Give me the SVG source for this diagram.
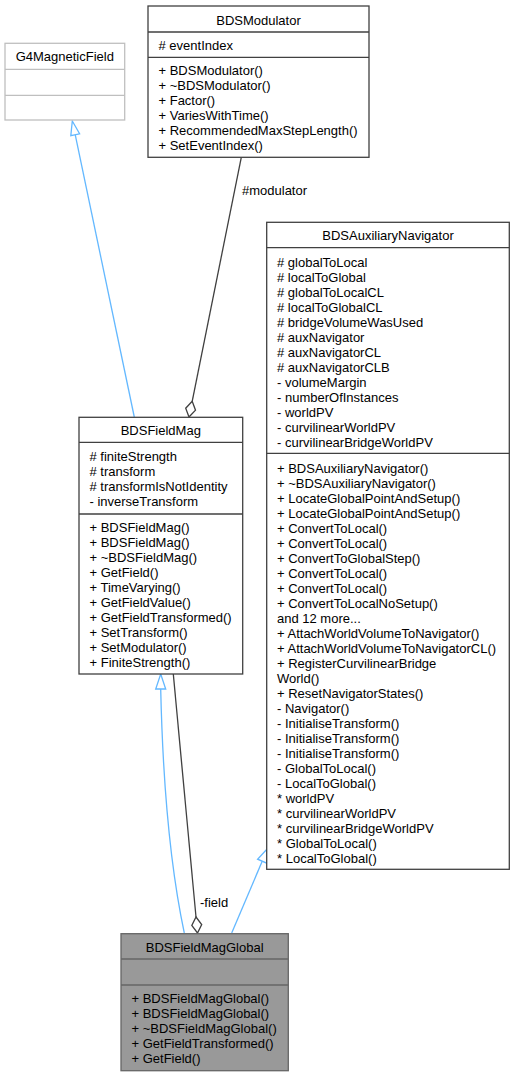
<svg xmlns="http://www.w3.org/2000/svg" width="514" height="1077" viewBox="0 0 514 1077">
<style>
text{font-family:"Liberation Sans",Arial,sans-serif;font-size:13px;fill:#000}
.t{text-anchor:middle}
.box{fill:#fff;stroke:#404040;stroke-width:1.3}
.sep{stroke:#404040;stroke-width:1.3}
.g4{fill:#fff;stroke:#bfbfbf;stroke-width:1.3}
.g4s{stroke:#bfbfbf;stroke-width:1.3}
.cur{fill:#999;stroke:#666;stroke-width:1.3}
.curs{stroke:#666;stroke-width:1.3}
.inh{fill:none;stroke:#63b8ff;stroke-width:1.3}
.inhh{fill:#fff;stroke:#63b8ff;stroke-width:1.3}
.agg{fill:none;stroke:#404040;stroke-width:1.3}
.aggh{fill:#fff;stroke:#404040;stroke-width:1.3}
</style>
<rect width="514" height="1077" fill="#fff"/>
<g id="connectors">
<path class="inh" d="M134.3,417 L75.2,134.7"/>
<polygon class="inhh" points="72.3,121 79.6,133.8 70.8,135.6"/>
<path class="agg" d="M241.3,157.3 L192.2,401.3"/>
<polygon class="aggh" points="192.2,401.3 195.5,410.2 189,417 185.7,408.2"/>
<text x="242" y="195">#modulator</text>
<path class="inh" d="M184.3,933 C172,875 163,790 160.7,689"/>
<polygon class="inhh" points="160.7,674 165.7,689 155.7,689"/>
<path class="agg" d="M173.3,674 L196,917"/>
<polygon class="aggh" points="196,917 201.7,924.5 197.5,933 191.8,925.5"/>
<text x="200" y="906.5">-field</text>
<path class="inh" d="M231.7,933 L262.2,861.2"/>
<polygon class="inhh" points="267.7,848.3 266.8,863.2 257.6,859.2"/>
</g>
<g id="G4MagneticField">
<rect class="g4" x="5" y="43.3" width="119.7" height="76.7"/>
<line class="g4s" x1="5" y1="69.3" x2="124.7" y2="69.3"/>
<line class="g4s" x1="5" y1="95.3" x2="124.7" y2="95.3"/>
<text class="t" x="64.8" y="61.3">G4MagneticField</text>
</g>
<g id="BDSModulator">
<rect class="box" x="148" y="6" width="221" height="151.3"/>
<line class="sep" x1="148" y1="32" x2="369" y2="32"/>
<line class="sep" x1="148" y1="57.3" x2="369" y2="57.3"/>
<text class="t" x="258.5" y="24.5">BDSModulator</text>
<text x="158.5" y="50">#  eventIndex</text>
<text x="158.5" y="75">+ BDSModulator()</text>
<text x="158.5" y="90">+ ~BDSModulator()</text>
<text x="158.5" y="105">+ Factor()</text>
<text x="158.5" y="120">+ VariesWithTime()</text>
<text x="158.5" y="135">+ RecommendedMaxStepLength()</text>
<text x="158.5" y="150">+ SetEventIndex()</text>
</g>
<g id="BDSAuxiliaryNavigator">
<rect class="box" x="266.7" y="222.3" width="242.6" height="647"/>
<line class="sep" x1="266.7" y1="247.7" x2="509.3" y2="247.7"/>
<line class="sep" x1="266.7" y1="453.3" x2="509.3" y2="453.3"/>
<text class="t" x="388" y="240">BDSAuxiliaryNavigator</text>
<text x="277" y="266.5"># globalToLocal</text>
<text x="277" y="281.5"># localToGlobal</text>
<text x="277" y="296.5"># globalToLocalCL</text>
<text x="277" y="311.5"># localToGlobalCL</text>
<text x="277" y="326.5"># bridgeVolumeWasUsed</text>
<text x="277" y="341.5"># auxNavigator</text>
<text x="277" y="356.5"># auxNavigatorCL</text>
<text x="277" y="371.5"># auxNavigatorCLB</text>
<text x="277" y="386.5">- volumeMargin</text>
<text x="277" y="401.5">- numberOfInstances</text>
<text x="277" y="416.5">- worldPV</text>
<text x="277" y="431.5">- curvilinearWorldPV</text>
<text x="277" y="446.5">- curvilinearBridgeWorldPV</text>
<text x="277" y="472.5">+ BDSAuxiliaryNavigator()</text>
<text x="277" y="487.5">+ ~BDSAuxiliaryNavigator()</text>
<text x="277" y="502.5">+ LocateGlobalPointAndSetup()</text>
<text x="277" y="517.5">+ LocateGlobalPointAndSetup()</text>
<text x="277" y="532.5">+ ConvertToLocal()</text>
<text x="277" y="547.5">+ ConvertToLocal()</text>
<text x="277" y="562.5">+ ConvertToGlobalStep()</text>
<text x="277" y="577.5">+ ConvertToLocal()</text>
<text x="277" y="592.5">+ ConvertToLocal()</text>
<text x="277" y="607.5">+ ConvertToLocalNoSetup()</text>
<text x="277" y="622.5">and 12 more...</text>
<text x="277" y="637.5">+ AttachWorldVolumeToNavigator()</text>
<text x="277" y="652.5">+ AttachWorldVolumeToNavigatorCL()</text>
<text x="277" y="667.5">+ RegisterCurvilinearBridge</text>
<text x="277" y="682.5">World()</text>
<text x="277" y="697.5">+ ResetNavigatorStates()</text>
<text x="277" y="712.5">- Navigator()</text>
<text x="277" y="727.5">- InitialiseTransform()</text>
<text x="277" y="742.5">- InitialiseTransform()</text>
<text x="277" y="757.5">- InitialiseTransform()</text>
<text x="277" y="772.5">- GlobalToLocal()</text>
<text x="277" y="787.5">- LocalToGlobal()</text>
<text x="277" y="802.5">* worldPV</text>
<text x="277" y="817.5">* curvilinearWorldPV</text>
<text x="277" y="832.5">* curvilinearBridgeWorldPV</text>
<text x="277" y="847.5">* GlobalToLocal()</text>
<text x="277" y="862.5">* LocalToGlobal()</text>
</g>
<g id="BDSFieldMag">
<rect class="box" x="79" y="417.3" width="163.7" height="256.7"/>
<line class="sep" x1="79" y1="442.3" x2="242.7" y2="442.3"/>
<line class="sep" x1="79" y1="514" x2="242.7" y2="514"/>
<text class="t" x="160.8" y="435">BDSFieldMag</text>
<text x="89.5" y="461"># finiteStrength</text>
<text x="89.5" y="476"># transform</text>
<text x="89.5" y="491"># transformIsNotIdentity</text>
<text x="89.5" y="506">- inverseTransform</text>
<text x="89.5" y="531.5">+ BDSFieldMag()</text>
<text x="89.5" y="546.5">+ BDSFieldMag()</text>
<text x="89.5" y="561.5">+ ~BDSFieldMag()</text>
<text x="89.5" y="576.5">+ GetField()</text>
<text x="89.5" y="591.5">+ TimeVarying()</text>
<text x="89.5" y="606.5">+ GetFieldValue()</text>
<text x="89.5" y="621.5">+ GetFieldTransformed()</text>
<text x="89.5" y="636.5">+ SetTransform()</text>
<text x="89.5" y="651.5">+ SetModulator()</text>
<text x="89.5" y="666.5">+ FiniteStrength()</text>
</g>
<g id="BDSFieldMagGlobal">
<rect class="cur" x="121" y="933.7" width="167.3" height="137"/>
<line class="curs" x1="121" y1="959" x2="288.3" y2="959"/>
<line class="curs" x1="121" y1="985" x2="288.3" y2="985"/>
<text class="t" x="204.7" y="952">BDSFieldMagGlobal</text>
<text x="131.5" y="1003">+ BDSFieldMagGlobal()</text>
<text x="131.5" y="1018">+ BDSFieldMagGlobal()</text>
<text x="131.5" y="1033">+ ~BDSFieldMagGlobal()</text>
<text x="131.5" y="1048">+ GetFieldTransformed()</text>
<text x="131.5" y="1063">+ GetField()</text>
</g>
</svg>
